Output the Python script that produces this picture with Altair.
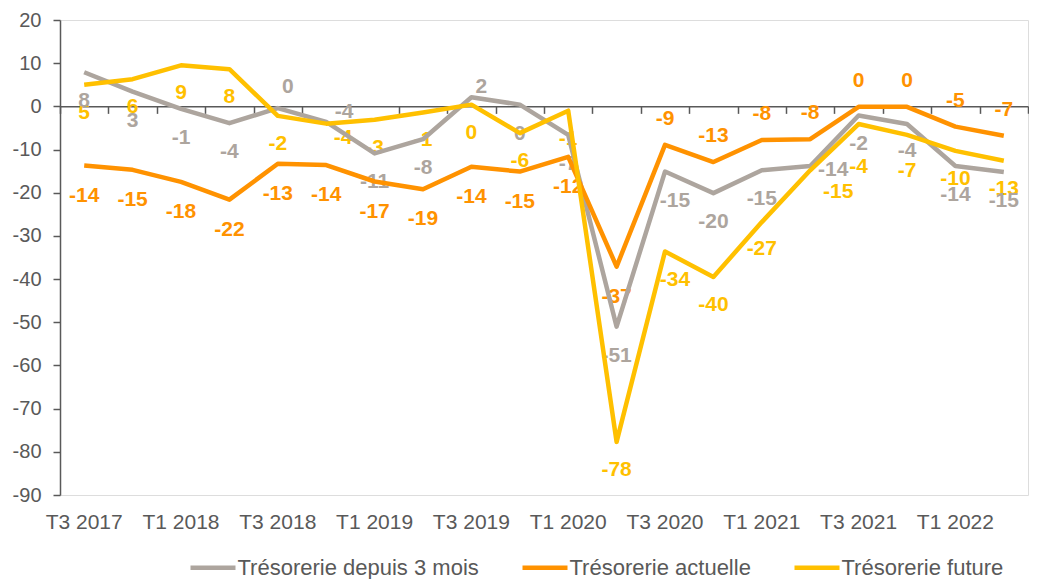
import altair as alt
import pandas as pd

# ---- data ----
quarters = ["T3 2017", "T4 2017", "T1 2018", "T2 2018", "T3 2018", "T4 2018",
            "T1 2019", "T2 2019", "T3 2019", "T4 2019", "T1 2020", "T2 2020",
            "T3 2020", "T4 2020", "T1 2021", "T2 2021", "T3 2021", "T4 2021",
            "T1 2022", "T2 2022"]

series_names = ["Trésorerie depuis 3 mois", "Trésorerie actuelle", "Trésorerie future"]

depuis_values = [7.9, 3.4, -0.6, -3.9, -0.4, -3.6, -10.9, -7.6, 2.1, 0.4,
                 -6.6, -51.0, -15.1, -20.1, -14.8, -13.8, -2.1, -4.1, -13.8, -15.2]
depuis_labels = [8, 3, -1, -4, 0, -4, -11, -8, 2, 0,
                 -7, -51, -15, -20, -15, -14, -2, -4, -14, -15]

actuelle_values = [-13.7, -14.7, -17.5, -21.6, -13.3, -13.6, -17.4, -19.2, -14.0, -15.1,
                   -11.7, -37.1, -8.9, -12.9, -7.8, -7.6, -0.1, -0.1, -4.7, -6.8]
actuelle_labels = [-14, -15, -18, -22, -13, -14, -17, -19, -14, -15,
                   -12, -37, -9, -13, -8, -8, 0, 0, -5, -7]

future_values = [5.0, 6.3, 9.5, 8.6, -2.2, -4.0, -3.1, -1.4, 0.4, -6.2,
                 -1.0, -77.7, -33.6, -39.5, -26.8, -14.8, -4.1, -6.6, -10.3, -12.6]
future_labels = [5, 6, 9, 8, -2, -4, -3, -1, 0, -6,
                 -1, -78, -34, -40, -27, -15, -4, -7, -10, -13]

# ---- styling ----
colors = ["#ADA59E", "#FF9200", "#FFC000"]

# data-label offsets in pixels (placement style, as in the reference)
depuis_dx = [0, 0, 0, 0, 10, 18, 0, 0, 10, 0, 0, 0, 10, 0, 0, 23, 0, 0, 0, 0]
depuis_dy = [29, 29, 29, 29, -21, -10, 29, 29, -10, 29, 29, 29, 29, 29, 29, 4, 29, 27, 29, 29]
actuelle_dx = [0] * 20
actuelle_dy = [30, 30, 30, 30, 30, 30, 30, 30, 30, 30, 30, 30,
               -26, -26, -26, -26, -26, -26, -26, -26]
future_dx = [0, 0, 0, 0, 0, 17, 0, 0, 0, 0, 0, 0, 10, 0, 0, 28, 0, 0, 0, 0]
future_dy = [28, 28, 28, 28, 28, 14, 28, 28, 28, 28, 28, 28, 29, 28, 27, 22, 43, 36, 28, 28]

rows = []
for name, vals, labs, dxs, dys in [
    (series_names[0], depuis_values, depuis_labels, depuis_dx, depuis_dy),
    (series_names[1], actuelle_values, actuelle_labels, actuelle_dx, actuelle_dy),
    (series_names[2], future_values, future_labels, future_dx, future_dy),
]:
    for q, v, l, dx, dy in zip(quarters, vals, labs, dxs, dys):
        rows.append({"quarter": q, "series": name, "value": v, "label": str(l),
                     "pos": f"{dx},{dy}"})
df = pd.DataFrame(rows)

W, H = 968, 475
Y_MIN, Y_MAX = -90, 20
FONT = "Liberation Sans"
TXT = "#595959"
AX = "#595959"

x_scale = alt.Scale(type="band", domain=quarters, paddingInner=0, paddingOuter=0)
y_scale = alt.Scale(domain=[Y_MIN, Y_MAX], nice=False, zero=False)
color_scale = alt.Scale(domain=series_names, range=colors)

y_enc = alt.Y("value:Q", scale=y_scale,
              axis=alt.Axis(title=None, grid=False, values=list(range(Y_MIN, Y_MAX + 1, 10)),
                            tickSize=7, tickColor=AX, domainColor=AX, domainWidth=1.5,
                            tickWidth=1.5, labelFont=FONT, labelFontSize=20, labelColor=TXT,
                            labelPadding=12,
                            labelExpr="replace(datum.label, '\u2212', '-')"))

label_axis = alt.Axis(title=None, orient="bottom", domain=False, ticks=False, labelAngle=0,
                      labelFont=FONT, labelFontSize=21, labelColor=TXT, labelPadding=16,
                      labelOverlap=False,
                      labelExpr="(indexof(datum.label,'T1')==0 || indexof(datum.label,'T3')==0) ? datum.label : ''")

zero_axis = alt.Axis(title=None, orient="bottom", labels=False, domain=True, ticks=True,
                     tickBand="extent", tickSize=7, tickColor=AX, tickWidth=1.5,
                     domainColor=AX, domainWidth=1.5,
                     offset=-H * (0 - Y_MIN) / (Y_MAX - Y_MIN))

base = alt.Chart(df)

label_layers = []
for k, key in enumerate(sorted(df["pos"].unique())):
    dx, dy = (int(t) for t in key.split(","))
    label_layers.append(
        base.transform_filter(alt.datum.pos == key).mark_text(
            font=FONT, fontSize=21, fontWeight="bold", baseline="middle", align="center",
            dx=dx, dy=dy
        ).encode(
            x=alt.X("quarter:N", sort=quarters, scale=x_scale, bandPosition=0.5,
                    axis=zero_axis if k == 0 else None),
            y=y_enc,
            text="label:N",
            color=alt.Color("series:N", scale=color_scale, legend=None),
        )
    )

lines = base.mark_line(strokeWidth=4.5, strokeJoin="round", strokeCap="butt").encode(
    x=alt.X("quarter:N", sort=quarters, scale=x_scale, bandPosition=0.5, axis=label_axis),
    y=y_enc,
    color=alt.Color("series:N", scale=color_scale, sort=series_names,
                    legend=alt.Legend(orient="none", legendX=140.5, legendY=535,
                                      direction="horizontal", title=None,
                                      symbolType="M-2.25,0H2.25", symbolSize=400,
                                      symbolStrokeWidth=4.5, labelFont=FONT,
                                      labelFontSize=22, labelColor=TXT, labelLimit=0,
                                      labelOffset=12, columnPadding=34)),
)

chart = alt.layer(*label_layers, lines).resolve_axis(
    x="independent"
).resolve_legend(
    color="independent"
).properties(
    width=W, height=H,
    padding={"left": 4, "top": 2, "right": 0, "bottom": 0},
).configure_view(strokeWidth=0).configure(font=FONT)

chart.save("out.html", embed_options={"renderer": "svg", "actions": False})
